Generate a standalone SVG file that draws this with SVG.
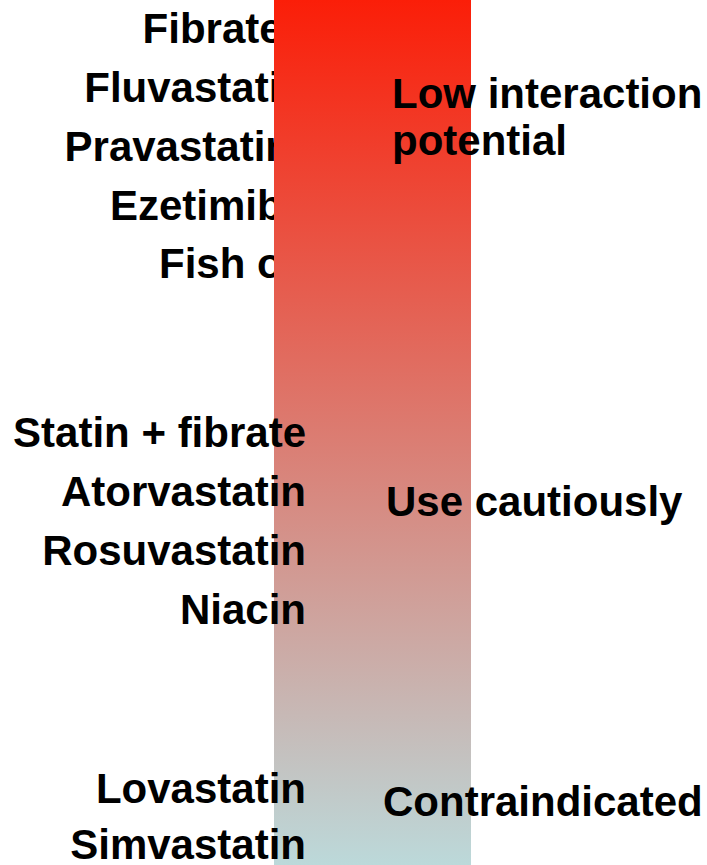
<svg xmlns="http://www.w3.org/2000/svg" width="707" height="865" viewBox="0 0 707 865">
<defs>
<linearGradient id="grad" x1="0" y1="0" x2="0" y2="1">
<stop offset="0" stop-color="#fb1e08"/>
<stop offset="1" stop-color="#bcd9da"/>
</linearGradient>
<style>
text{font-family:"Liberation Sans",Arial,sans-serif;font-weight:bold;font-size:42px;fill:#000}
.r{text-anchor:end}
</style>
</defs>
<rect width="707" height="865" fill="#fff"/>
<g id="low-drugs">
<text class="r" x="306" y="43">Fibrates</text>
<text class="r" x="306" y="102">Fluvastatin</text>
<text class="r" x="291" y="161">Pravastatin</text>
<text class="r" x="306" y="220">Ezetimibe</text>
<text class="r" x="306" y="278">Fish oil</text>
</g>
<g id="bar">
<rect x="274" y="0" width="197" height="865" fill="url(#grad)"/>
</g>
<g id="low-label">
<text x="392" y="108">Low interaction</text>
<text x="392" y="155">potential</text>
</g>
<g id="caution-drugs">
<text class="r" x="306" y="447">Statin + fibrate</text>
<text class="r" x="306" y="506">Atorvastatin</text>
<text class="r" x="306" y="565">Rosuvastatin</text>
<text class="r" x="306" y="624">Niacin</text>
</g>
<g id="caution-label">
<text x="386" y="516">Use cautiously</text>
</g>
<g id="contra-drugs">
<text class="r" x="306" y="803">Lovastatin</text>
<text class="r" x="306" y="859">Simvastatin</text>
</g>
<g id="contra-label">
<text x="383" y="816">Contraindicated</text>
</g>
<g id="connectors"/>
</svg>
